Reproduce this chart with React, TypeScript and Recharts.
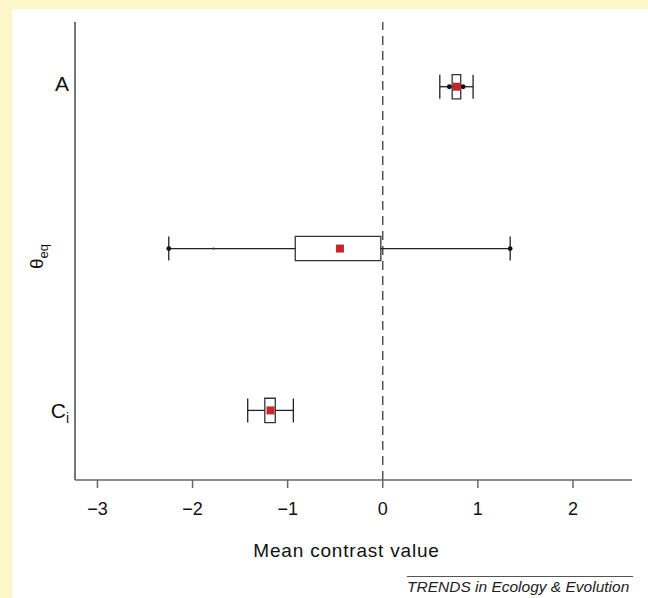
import React from "react";
import {
  ScatterChart,
  Scatter,
  XAxis,
  YAxis,
  ReferenceLine,
  ReferenceArea,
  Label,
} from "recharts";

// rows from top to bottom, placed on a numeric y scale (top = 3)
const rowNames = ["A", "θeq", "Ci"];
const rowPos = [3, 2, 1];

// box plot summaries
const whiskerLow = [0.6, -2.25, -1.42];
const boxLow = [0.73, -0.92, -1.24];
const boxHigh = [0.82, -0.02, -1.13];
const whiskerHigh = [0.95, 1.34, -0.94];
const means = [0.78, -0.45, -1.18];

// small black markers drawn on the whiskers
const dotX = [0.7, 0.845, -2.25, 1.34];
const dotRow = [3, 3, 2, 2];
const tinyX = [-1.78];
const tinyRow = [2];

const xTicks = [-3, -2, -1, 0, 1, 2];
const xDomain: [number, number] = [-3.236, 2.621];
const yDomain: [number, number] = [0.57, 3.4];

const FONT = '"Liberation Sans", Arial, Helvetica, sans-serif';
const AXIS = "#666";
const INK = "#222";
const RED = "#c1272d";
const HALF_BOX = 0.075; // box half-height, in row units

const meanData = means.map((x, i) => ({ x, y: rowPos[i] }));
const dotData = dotX.map((x, i) => ({ x, y: dotRow[i] }));
const tinyData = tinyX.map((x, i) => ({ x, y: tinyRow[i] }));
const capData = [...whiskerLow, ...whiskerHigh].map((x, i) => ({
  x,
  y: rowPos[i % rowPos.length],
}));

function fmtTick(v: number): string {
  return v < 0 ? `\u2212${Math.abs(v)}` : String(v);
}

function MeanSquare(props: any) {
  const { cx, cy } = props;
  return <rect x={cx - 4} y={cy - 4} width={8} height={8} fill={RED} />;
}

function Cap(props: any) {
  const { cx, cy } = props;
  return (
    <line x1={cx} x2={cx} y1={cy - 12} y2={cy + 12} stroke={INK} strokeWidth={1.3} />
  );
}

function Dot(props: any) {
  return <circle cx={props.cx} cy={props.cy} r={2.4} fill="#111" />;
}

function TinyDot(props: any) {
  return <circle cx={props.cx} cy={props.cy} r={1.1} fill="#333" />;
}

function RowTick(props: any) {
  const { x, y, payload } = props;
  const name = rowNames[rowPos.indexOf(payload.value)];
  if (name === "A") {
    return (
      <text x={x} y={y + 4} textAnchor="end" fontSize={21} fontFamily={FONT} fill="#111">
        A
      </text>
    );
  }
  if (name === "Ci") {
    return (
      <text x={x} y={y + 8} textAnchor="end" fontSize={21} fontFamily={FONT} fill="#111">
        <tspan>C</tspan>
        <tspan fontSize={14} dy={5}>
          i
        </tspan>
      </text>
    );
  }
  // θeq is written sideways, reading upwards
  return (
    <text
      transform={`translate(${x - 26}, ${y + 8}) rotate(-90)`}
      textAnchor="middle"
      fontFamily={FONT}
      fill="#111"
    >
      <tspan fontSize={19}>θ</tspan>
      <tspan fontSize={13} dy={5}>
        eq
      </tspan>
    </text>
  );
}

function XTitle(props: any) {
  const vb = props.viewBox;
  return (
    <text
      x={vb.x + vb.width / 2 - 7}
      y={vb.y + vb.height - 3}
      textAnchor="middle"
      fontSize={19}
      letterSpacing={0.8}
      fontFamily={FONT}
      fill="#111"
    >
      Mean contrast value
    </text>
  );
}

export default function App() {
  return (
    <div
      style={{
        position: "absolute",
        left: 0,
        top: 0,
        width: 648,
        height: 598,
        background: "#fcf6c9",
        overflow: "hidden",
      }}
    >
      <div
        style={{
          position: "absolute",
          left: 12,
          top: 9,
          right: 0,
          bottom: 0,
          background: "#fff",
        }}
      />
      <div style={{ position: "absolute", left: 0, top: 0 }}>
        <ScatterChart
          width={648}
          height={598}
          margin={{ top: 22, right: 16, bottom: 38, left: 0 }}
        >
          <XAxis
            type="number"
            dataKey="x"
            domain={xDomain}
            allowDataOverflow
            ticks={xTicks}
            tickFormatter={fmtTick}
            height={80}
            tickSize={8}
            tickMargin={14}
            axisLine={{ stroke: AXIS, strokeWidth: 1.5 }}
            tickLine={{ stroke: AXIS, strokeWidth: 1.5 }}
            tick={{ fill: "#111", fontSize: 18, fontFamily: FONT }}
          >
            <Label content={XTitle} />
          </XAxis>
          <YAxis
            type="number"
            dataKey="y"
            domain={yDomain}
            allowDataOverflow
            ticks={rowPos}
            width={75}
            tickSize={0}
            tickMargin={6}
            tickLine={false}
            axisLine={{ stroke: AXIS, strokeWidth: 1.8 }}
            tick={RowTick}
          />
          <ReferenceLine
            x={0}
            stroke="#555"
            strokeWidth={1.5}
            strokeDasharray="9 6"
          />
          {rowPos.map((y, i) => (
            <ReferenceLine
              key={`wl${i}`}
              segment={[
                { x: whiskerLow[i], y },
                { x: boxLow[i], y },
              ]}
              stroke={INK}
              strokeWidth={1.3}
            />
          ))}
          {rowPos.map((y, i) => (
            <ReferenceLine
              key={`wh${i}`}
              segment={[
                { x: boxHigh[i], y },
                { x: whiskerHigh[i], y },
              ]}
              stroke={INK}
              strokeWidth={1.3}
            />
          ))}
          {rowPos.map((y, i) => (
            <ReferenceArea
              key={`box${i}`}
              x1={boxLow[i]}
              x2={boxHigh[i]}
              y1={y - HALF_BOX}
              y2={y + HALF_BOX}
              fill="none"
              fillOpacity={0}
              stroke="#333"
              strokeWidth={1.3}
            />
          ))}
          <Scatter data={capData} shape={Cap} isAnimationActive={false} />
          <Scatter data={tinyData} shape={TinyDot} isAnimationActive={false} />
          <Scatter data={dotData} shape={Dot} isAnimationActive={false} />
          <Scatter data={meanData} shape={MeanSquare} isAnimationActive={false} />
        </ScatterChart>
      </div>
      <div
        style={{
          position: "absolute",
          left: 407,
          top: 576,
          width: 226,
          borderTop: "1px solid #555",
          fontFamily: FONT,
          fontStyle: "italic",
          fontSize: 15.5,
          lineHeight: "19px",
          color: "#222",
          whiteSpace: "nowrap",
        }}
      >
        TRENDS in Ecology &amp; Evolution
      </div>
    </div>
  );
}
